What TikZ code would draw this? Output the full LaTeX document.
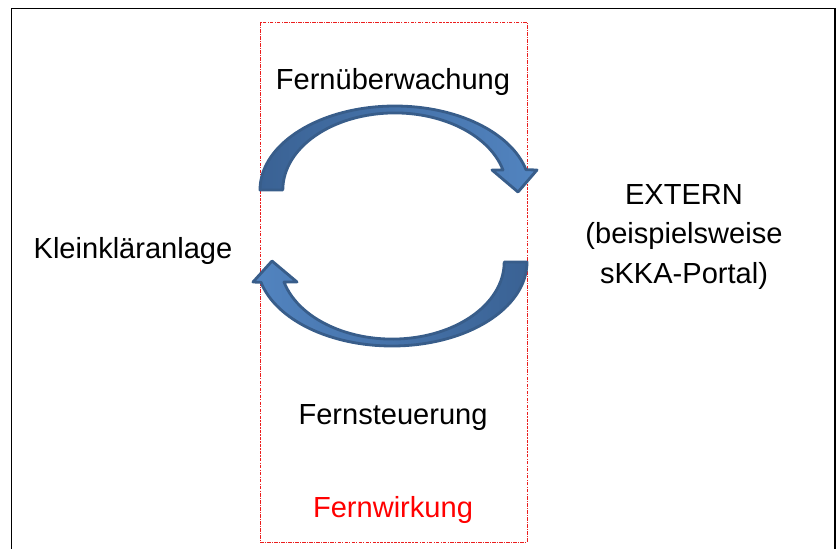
\documentclass[tikz,border=0pt]{standalone}
\usepackage{fontspec}
\setmainfont{Liberation Sans}
\definecolor{arrowline}{RGB}{56,93,138}
\definecolor{arrowdark}{RGB}{58,98,148}
\definecolor{arrowlight}{RGB}{82,132,192}
\definecolor{boxred}{RGB}{235,30,30}
\begin{document}
\begin{tikzpicture}[x=0.03cm,y=-0.03cm,
  label/.style={font=\fontsize{24.8}{34}\selectfont,align=center,inner sep=0pt},
  bigarrow/.style={draw=arrowline,line width=2.4pt,line join=round}]
\clip (0,0) rectangle (838,548);
% frame
\draw [line width=1.2pt] (11.5,560) -- (11.5,8.5) -- (835,8.5) -- (835,560);
\draw [boxred,line width=0.8pt,dash pattern=on 3pt off 1pt on 1pt off 1pt] (260,22) rectangle (527,542);
% arrows
\draw [bigarrow,left color=arrowdark,right color=arrowlight] (260,190)
  arc [start angle=180,end angle=346,x radius=135,y radius=84]
  -- (537,170) -- (518,192) -- (492,170) -- (503,170)
  arc [start angle=345,end angle=180,x radius=112,y radius=77] -- cycle;
\draw [bigarrow,left color=arrowlight,right color=arrowdark] (527,262)
  arc [start angle=0,end angle=166,x radius=135,y radius=84]
  -- (253,282) -- (272,261) -- (297,282) -- (284,282)
  arc [start angle=165,end angle=0,x radius=112,y radius=77] -- cycle;
% texts
\node [label] (fernueberwachung) at (393,82) {Fernüberwachung};
\node [label] (kleinklaeranlage) at (133,251) {Kleinkläranlage};
\node [label] (extern) at (684,237) {EXTERN\\(beispielsweise\\sKKA-Portal)};
\node [label] (fernsteuerung) at (393,418) {Fernsteuerung};
\node [label,text=red] (fernwirkung) at (393,510) {Fernwirkung};
\end{tikzpicture}
\end{document}
